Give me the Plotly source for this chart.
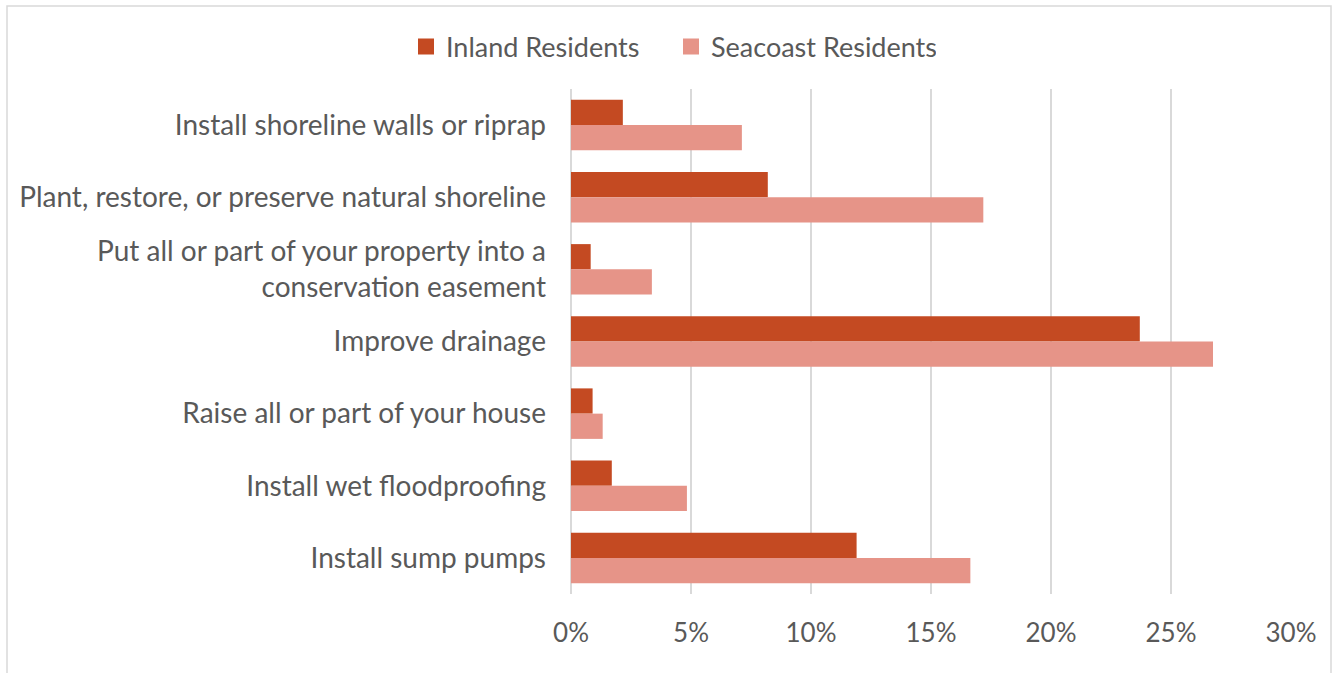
import plotly.graph_objects as go

categories = [
    "Install shoreline walls or riprap",
    "Plant, restore, or preserve natural shoreline",
    "Put all or part of your property into a<br>conservation easement",
    "Improve drainage",
    "Raise all or part of your house",
    "Install wet floodproofing",
    "Install sump pumps",
]
inland = [2.16, 8.2, 0.82, 23.7, 0.9, 1.7, 11.9]
seacoast = [7.12, 17.18, 3.37, 26.75, 1.32, 4.83, 16.64]
tick_vals = [0, 5, 10, 15, 20, 25, 30]
tick_text = ["0%", "5%", "10%", "15%", "20%", "25%", "30%"]
series_names = ["Inland Residents", "Seacoast Residents"]
colors = ["#C44A22", "#E69488"]

FONT = "Lato, 'Open Sans', sans-serif"
GRAY = "#595959"

fig = go.Figure()
for name, vals, col in zip(series_names, [inland, seacoast], colors):
    fig.add_trace(go.Bar(y=categories, x=vals, orientation="h", name=name,
                         marker=dict(color=col, line=dict(width=0)), showlegend=False))
for name, col in zip(series_names, colors):
    fig.add_trace(go.Scatter(x=[None], y=[None], mode="markers", name=name,
                             marker=dict(symbol="square", size=17, color=col)))

L, R, T, B = 571, 42, 89, 79
W, H = 1333, 673
pw, ph = W - L - R, H - T - B

def px(x):
    return (x - L) / pw

def py(y):
    return (H - B - y) / ph

fig.update_layout(
    width=W, height=H,
    margin=dict(l=L, r=R, t=T, b=B, autoexpand=False),
    paper_bgcolor="white", plot_bgcolor="white",
    barmode="group", bargap=0.3, bargroupgap=0,
    font=dict(family=FONT, size=27, color=GRAY),
    legend=dict(orientation="h", x=px(671), xanchor="center", y=py(47), yanchor="middle",
                font=dict(family=FONT, size=27, color=GRAY), traceorder="normal",
                itemsizing="trace", itemwidth=30, entrywidth=220,
                bgcolor="rgba(0,0,0,0)"),
    xaxis=dict(range=[0, 30], tickvals=tick_vals, ticktext=tick_text,
               showgrid=True, gridcolor="#d9d9d9", gridwidth=1.5,
               zeroline=True, zerolinecolor="#d9d9d9", zerolinewidth=1.5,
               showline=False, ticks="", ticklabelstandoff=21,
               tickfont=dict(family=FONT, size=26, color=GRAY), fixedrange=True),
    yaxis=dict(autorange="reversed", showgrid=False, showline=False, ticks="",
               ticklabelstandoff=24, tickfont=dict(family=FONT, size=28, color=GRAY)),
    shapes=[dict(type="rect", xref="paper", yref="paper",
                 x0=px(7), x1=px(1331), y0=py(6), y1=py(690),
                 line=dict(color="#d9d9d9", width=1.5), fillcolor="rgba(0,0,0,0)", layer="below")],
)

fig.write_html("out.html", config={"displayModeBar": False},
               post_script="document.body.style.margin='0';document.body.style.overflow='hidden';")
